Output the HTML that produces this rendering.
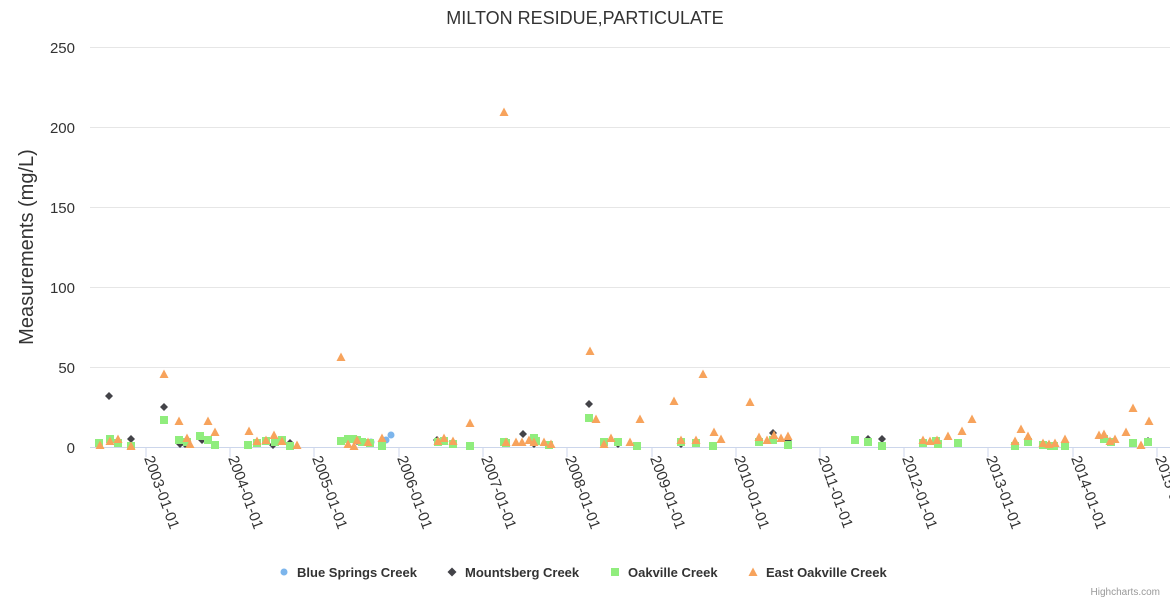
<!DOCTYPE html>
<html><head><meta charset="utf-8"><style>
body{margin:0;background:#fff;}
svg{display:block;font-family:"Liberation Sans",sans-serif;}
</style></head><body>
<svg width="1170" height="600" viewBox="0 0 1170 600" xmlns="http://www.w3.org/2000/svg">
<rect width="1170" height="600" fill="#fff"/>
<text x="585" y="24" text-anchor="middle" font-size="18" fill="#333">MILTON RESIDUE,PARTICULATE</text>
<g stroke="#e6e6e6" stroke-width="1">
<line x1="90" y1="47.5" x2="1170" y2="47.5"/><line x1="90" y1="127.5" x2="1170" y2="127.5"/>
<line x1="90" y1="207.5" x2="1170" y2="207.5"/><line x1="90" y1="287.5" x2="1170" y2="287.5"/>
<line x1="90" y1="367.5" x2="1170" y2="367.5"/>
</g>
<line x1="90" y1="447.5" x2="1170" y2="447.5" stroke="#ccd6eb"/>
<g font-size="15" fill="#333" text-anchor="end">
<text x="75" y="53">250</text><text x="75" y="133">200</text><text x="75" y="213">150</text>
<text x="75" y="293">100</text><text x="75" y="373">50</text><text x="75" y="453">0</text>
</g>
<text transform="translate(33,247) rotate(-90)" text-anchor="middle" font-size="20" fill="#333">Measurements (mg/L)</text>
<g stroke="#ccd6eb">
<line x1="146" y1="447" x2="146" y2="457"/><line x1="230" y1="447" x2="230" y2="457"/><line x1="314" y1="447" x2="314" y2="457"/><line x1="399" y1="447" x2="399" y2="457"/><line x1="483" y1="447" x2="483" y2="457"/><line x1="567" y1="447" x2="567" y2="457"/><line x1="652" y1="447" x2="652" y2="457"/><line x1="736" y1="447" x2="736" y2="457"/><line x1="820" y1="447" x2="820" y2="457"/><line x1="904" y1="447" x2="904" y2="457"/><line x1="988" y1="447" x2="988" y2="457"/><line x1="1073" y1="447" x2="1073" y2="457"/><line x1="1157" y1="447" x2="1157" y2="457"/>
</g>
<g font-size="15" fill="#333">
<text transform="translate(144,458) rotate(70)">2003-01-01</text>
<text transform="translate(228,458) rotate(70)">2004-01-01</text>
<text transform="translate(312,458) rotate(70)">2005-01-01</text>
<text transform="translate(397,458) rotate(70)">2006-01-01</text>
<text transform="translate(481,458) rotate(70)">2007-01-01</text>
<text transform="translate(565,458) rotate(70)">2008-01-01</text>
<text transform="translate(650,458) rotate(70)">2009-01-01</text>
<text transform="translate(734,458) rotate(70)">2010-01-01</text>
<text transform="translate(818,458) rotate(70)">2011-01-01</text>
<text transform="translate(902,458) rotate(70)">2012-01-01</text>
<text transform="translate(986,458) rotate(70)">2013-01-01</text>
<text transform="translate(1071,458) rotate(70)">2014-01-01</text>
<text transform="translate(1155,458) rotate(70)">2015-01-01</text>
</g>
<g id="pts"></g>
<g font-size="13" font-weight="bold" fill="#333">
<circle cx="284" cy="572" r="3.5" fill="#7cb5ec"/><text x="297" y="577">Blue Springs Creek</text>
<path d="M452 567.5 L456.5 572 L452 576.5 L447.5 572Z" fill="#434348"/><text x="465" y="577">Mountsberg Creek</text>
<rect x="611" y="568" width="8" height="8" fill="#90ed7d"/><text x="628" y="577">Oakville Creek</text>
<path d="M753 567.5 L757.5 576 L748.5 576Z" fill="#f7a35c"/><text x="766" y="577">East Oakville Creek</text>
</g>
<text x="1160" y="595" text-anchor="end" font-size="10" fill="#999">Highcharts.com</text>
<script>
var g=document.getElementById('pts'),NS='http://www.w3.org/2000/svg';
function add(tag,attrs){var e=document.createElementNS(NS,tag);for(var k in attrs)e.setAttribute(k,attrs[k]);g.appendChild(e);}
var oak=[[99,443],[110,439],[118,443],[131,446],[164,420],[179,440],[187,442],[200,436],[208,440],[215,445],[248,445],[257,443],[266,441],[275,442],[282,440],[290,446],[341,441],[348,439],[353,439],[357,440],[362,442],[370,443],[382,446],[438,442],[444,441],[453,444],[470,446],[504,442],[506,443],[534,438],[536,441],[549,445],[589,418],[604,442],[618,442],[637,446],[681,442],[696,443],[713,446],[759,442],[773,440],[788,445],[855,440],[868,442],[882,446],[923,443],[936,441],[938,444],[958,443],[1015,446],[1028,442],[1043,445],[1051,446],[1054,446],[1065,446],[1104,439],[1111,442],[1133,443],[1148,442]];
var east=[[100,445],[110,441],[118,439],[131,446],[164,374],[179,421],[187,438],[190,444],[208,421],[215,432],[249,431],[257,441],[266,440],[274,435],[282,441],[297,445],[341,357],[348,444],[354,446],[357,440],[368,442],[382,438],[438,441],[444,438],[453,441],[470,423],[504,112],[506,442],[516,442],[522,442],[529,440],[534,442],[544,442],[551,444],[590,351],[596,419],[604,444],[611,438],[630,442],[640,419],[674,401],[681,440],[696,440],[703,374],[714,432],[721,439],[750,402],[759,437],[767,440],[774,435],[781,438],[788,436],[923,440],[930,441],[937,440],[948,436],[962,431],[972,419],[1015,441],[1021,429],[1028,436],[1043,443],[1049,444],[1055,443],[1065,439],[1099,435],[1104,434],[1110,441],[1115,439],[1126,432],[1133,408],[1141,445],[1149,421]];
var mt=[[109,396],[131,439],[164,407],[180,444],[185,444],[202,440],[273,445],[290,443],[357,441],[437,440],[523,434],[534,444],[589,404],[604,444],[618,444],[681,444],[773,433],[788,441],[868,439],[882,439],[936,441],[1148,441]];
var bl=[[371,442],[386,440],[391,435]];
bl.forEach(function(p){add('circle',{cx:p[0],cy:p[1],r:3.5,fill:'#7cb5ec'});});
mt.forEach(function(p){add('path',{d:'M'+p[0]+' '+(p[1]-4)+'L'+(p[0]+4)+' '+p[1]+'L'+p[0]+' '+(p[1]+4)+'L'+(p[0]-4)+' '+p[1]+'Z',fill:'#434348'});});
oak.forEach(function(p){add('rect',{x:p[0]-4,y:p[1]-4,width:8,height:8,fill:'#90ed7d'});});
east.forEach(function(p){add('path',{d:'M'+p[0]+' '+(p[1]-4.5)+'L'+(p[0]+4.5)+' '+(p[1]+4)+'L'+(p[0]-4.5)+' '+(p[1]+4)+'Z',fill:'#f7a35c'});});
</script>
</svg>
</body></html>
